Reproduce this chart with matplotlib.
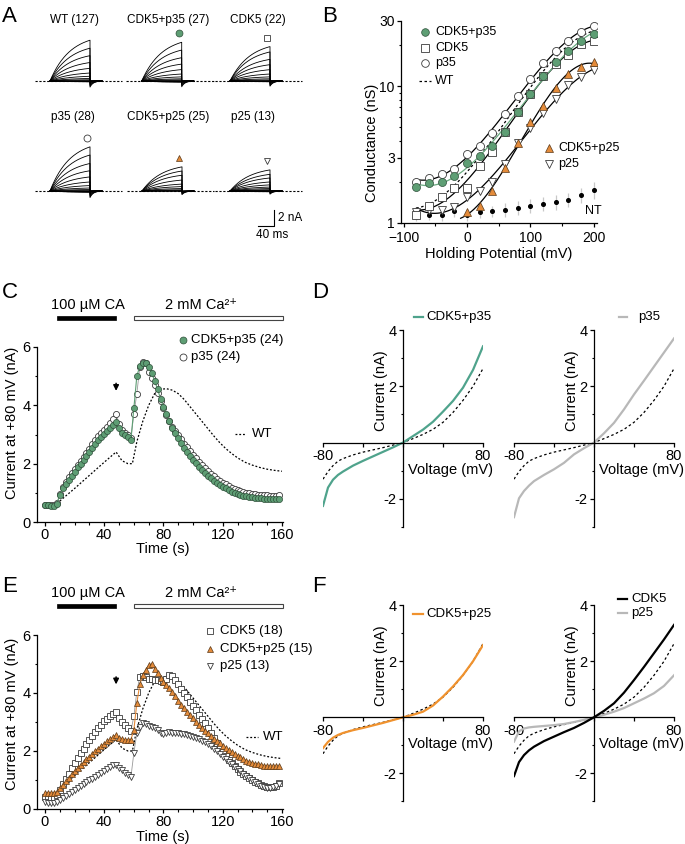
import numpy as np
import matplotlib
matplotlib.use('Agg')
import matplotlib.pyplot as plt
from matplotlib.lines import Line2D
from matplotlib.patches import Rectangle
from matplotlib.ticker import FixedLocator, NullFormatter, MultipleLocator
import matplotlib.transforms as mtrans

plt.rcParams['font.family'] = ['Liberation Sans', 'DejaVu Sans']
plt.rcParams['font.size'] = 10
plt.rcParams['axes.linewidth'] = 0.9
plt.rcParams['xtick.major.width'] = 0.9
plt.rcParams['ytick.major.width'] = 0.9
plt.rcParams['xtick.minor.width'] = 0.8
plt.rcParams['ytick.minor.width'] = 0.8
plt.rcParams['xtick.major.size'] = 3
plt.rcParams['ytick.major.size'] = 3
plt.rcParams['xtick.minor.size'] = 1.8
plt.rcParams['ytick.minor.size'] = 1.8
plt.rcParams['xtick.major.pad'] = 1.5
plt.rcParams['ytick.major.pad'] = 1.5

GREEN = '#5e9e74'
GREEN_LINE = '#4fa38c'
ORANGE = '#e48b3a'
ORANGE_LINE = '#f0922e'
GRAY_LINE = '#b8b8b8'

# ============================================================
# Data
# ============================================================
# Panel B: conductance (nS) at each holding potential (mV)
volts = np.arange(-80, 201, 20)
g_wt = [1.25, 1.40, 1.61, 1.90, 2.38, 3.06, 3.87, 5.3, 7.4, 10.0, 13.2, 16.5, 19.8, 22.8, 25.5]
g_cdk5_p35 = [1.83, 1.96, 1.99, 2.21, 2.74, 3.08, 3.63, 4.62, 6.46, 8.74, 11.9, 15.1, 18.2, 21.5, 24.2]
g_cdk5 = [1.15, 1.34, 1.54, 1.81, 1.81, 2.60, 3.30, 4.62, 6.46, 8.74, 11.8, 14.6, 16.9, 20.2, 21.5]
g_p35 = [2.01, 2.13, 2.29, 2.50, 3.19, 3.68, 4.58, 6.25, 8.49, 11.3, 14.7, 18.1, 21.5, 25.0, 27.6]
g_p25 = [1.20, 1.24, 1.25, 1.31, 1.55, 1.70, 1.98, 2.71, 3.84, 4.94, 6.38, 8.08, 10.2, 11.6, 13.2]
g_nt = [1.12, 1.14, 1.14, 1.22, 1.14, 1.20, 1.22, 1.25, 1.29, 1.34, 1.38, 1.42, 1.48, 1.61, 1.75]
g_nt_err = [0.08, 0.08, 0.10, 0.12, 0.10, 0.12, 0.12, 0.14, 0.15, 0.15, 0.16, 0.17, 0.18, 0.20, 0.25]
volts_cdk5_p25 = np.arange(0, 201, 20)
g_cdk5_p25 = [1.20, 1.34, 1.71, 2.54, 3.84, 5.52, 7.21, 9.77, 12.3, 13.9, 15.1]

# Panels C and E: current at +80 mV (nA), sampled every 2 s
time_s = np.arange(0, 160, 2)
i_cdk5_p35 = [0.58, 0.57, 0.56, 0.56, 0.62, 0.93, 1.15, 1.29, 1.45, 1.59,
              1.73, 1.87, 2.00, 2.14, 2.27, 2.41, 2.54, 2.68, 2.80, 2.91,
              3.01, 3.12, 3.22, 3.32, 3.42, 3.21, 3.06, 2.98, 2.92, 2.80,
              3.90, 5.00, 5.35, 5.44, 5.44, 5.33, 5.10, 4.85, 4.55, 4.23,
              3.95, 3.70, 3.45, 3.23, 3.04, 2.87, 2.71, 2.55, 2.40, 2.26,
              2.13, 2.01, 1.90, 1.79, 1.69, 1.59, 1.50, 1.42, 1.35, 1.28,
              1.21, 1.15, 1.09, 1.04, 1.00, 0.96, 0.93, 0.90, 0.88, 0.86,
              0.85, 0.83, 0.82, 0.81, 0.80, 0.79, 0.79, 0.78, 0.78, 0.79]
i_p35 = [0.58, 0.58, 0.57, 0.57, 0.65, 0.95, 1.20, 1.37, 1.53, 1.68,
         1.82, 1.96, 2.10, 2.24, 2.38, 2.52, 2.66, 2.81, 2.94, 3.05,
         3.15, 3.27, 3.39, 3.52, 3.72, 3.35, 3.15, 3.05, 2.97, 2.88,
         3.70, 4.40, 5.30, 5.50, 5.45, 5.15, 4.95, 4.70, 4.42, 4.15,
         3.90, 3.66, 3.45, 3.26, 3.12, 2.98, 2.83, 2.69, 2.56, 2.43,
         2.30, 2.18, 2.06, 1.95, 1.85, 1.75, 1.66, 1.57, 1.49, 1.42,
         1.35, 1.29, 1.24, 1.18, 1.14, 1.10, 1.07, 1.04, 1.01, 0.98,
         0.96, 0.95, 0.94, 0.93, 0.92, 0.91, 0.90, 0.90, 0.90, 0.91]
i_cdk5 = [0.42, 0.42, 0.42, 0.43, 0.48, 0.66, 0.85, 1.03, 1.21, 1.40,
          1.58, 1.75, 1.92, 2.08, 2.24, 2.39, 2.53, 2.66, 2.79, 2.91,
          3.02, 3.12, 3.21, 3.29, 3.36, 3.15, 3.00, 2.90, 2.78, 2.68,
          3.20, 4.05, 4.56, 4.60, 4.55, 4.50, 4.48, 4.46, 4.44, 4.41,
          4.39, 4.50, 4.62, 4.60, 4.45, 4.30, 4.15, 4.00, 3.85, 3.70,
          3.55, 3.40, 3.25, 3.10, 2.95, 2.80, 2.62, 2.45, 2.28, 2.10,
          1.95, 1.82, 1.70, 1.58, 1.47, 1.37, 1.29, 1.21, 1.14, 1.07,
          1.00, 0.94, 0.88, 0.84, 0.80, 0.77, 0.76, 0.77, 0.80, 0.88]
i_cdk5_p25 = [0.55, 0.56, 0.55, 0.56, 0.60, 0.72, 0.84, 0.95, 1.07, 1.19,
              1.30, 1.41, 1.51, 1.61, 1.71, 1.81, 1.90, 2.00, 2.08, 2.17,
              2.25, 2.33, 2.40, 2.48, 2.56, 2.44, 2.41, 2.39, 2.39, 2.39,
              2.73, 3.65, 4.30, 4.62, 4.79, 4.95, 5.00, 4.82, 4.68, 4.53,
              4.39, 4.27, 4.16, 4.02, 3.88, 3.73, 3.59, 3.47, 3.36, 3.24,
              3.13, 3.01, 2.90, 2.79, 2.70, 2.61, 2.52, 2.43, 2.35, 2.26,
              2.18, 2.11, 2.04, 1.97, 1.90, 1.83, 1.78, 1.72, 1.67, 1.62,
              1.58, 1.56, 1.54, 1.52, 1.50, 1.48, 1.47, 1.47, 1.47, 1.47]
i_p25 = [0.23, 0.22, 0.21, 0.21, 0.25, 0.32, 0.39, 0.46, 0.53, 0.60,
         0.67, 0.74, 0.81, 0.87, 0.93, 0.99, 1.04, 1.09, 1.16, 1.23,
         1.30, 1.37, 1.44, 1.51, 1.53, 1.41, 1.34, 1.24, 1.16, 1.10,
         1.93, 2.61, 2.84, 2.96, 2.92, 2.87, 2.84, 2.81, 2.72, 2.63,
         2.59, 2.61, 2.64, 2.63, 2.62, 2.61, 2.59, 2.57, 2.54, 2.51,
         2.48, 2.45, 2.41, 2.36, 2.31, 2.25, 2.17, 2.08, 1.99, 1.90,
         1.81, 1.72, 1.63, 1.54, 1.46, 1.38, 1.30, 1.22, 1.14, 1.07,
         0.99, 0.92, 0.85, 0.80, 0.76, 0.73, 0.73, 0.76, 0.80, 0.86]
# WT reference (dotted line)
wt_time = [10, 20, 30, 40, 48, 52, 56, 59, 62, 66, 70, 74, 78, 82, 86, 90, 94,
           98, 102, 106, 110, 114, 118, 122, 126, 130, 135, 140, 145, 150, 155, 160]
wt_current = [0.72, 1.15, 1.60, 2.05, 2.40, 2.10, 2.00, 2.00, 2.75, 3.45, 4.00, 4.40,
              4.55, 4.57, 4.52, 4.40, 4.20, 3.95, 3.70, 3.45, 3.20, 2.95, 2.72, 2.52,
              2.35, 2.20, 2.05, 1.95, 1.87, 1.81, 1.77, 1.74]
ca_window = (8, 48)         # 100 uM CA application (s)
calcium_window = (60, 161)  # 2 mM Ca2+ application (s)
arrow_time = 48

# Panels D and F: I-V ramps
ramp_v = [-80, -75, -70, -65, -60, -50, -40, -30, -20, -10, 0, 10, 20, 30, 40, 50, 60, 70, 80]
iv_wt = [-1.30, -1.03, -0.82, -0.66, -0.57, -0.44, -0.34, -0.26, -0.18, -0.09, 0,
         0.14, 0.29, 0.47, 0.72, 1.07, 1.50, 2.00, 2.63]
iv_cdk5_p35 = [-2.25, -1.60, -1.32, -1.15, -1.03, -0.82, -0.65, -0.49, -0.33, -0.17, 0,
               0.23, 0.46, 0.74, 1.10, 1.48, 1.95, 2.58, 3.42]
iv_p35 = [-2.65, -1.98, -1.72, -1.53, -1.37, -1.15, -0.95, -0.72, -0.42, -0.20, 0,
          0.33, 0.70, 1.18, 1.71, 2.20, 2.70, 3.20, 3.70]
iv_cdk5_p25 = [-1.10, -0.88, -0.73, -0.63, -0.56, -0.46, -0.38, -0.29, -0.20, -0.10, 0,
               0.09, 0.20, 0.42, 0.74, 1.10, 1.51, 2.00, 2.58]
iv_cdk5 = [-2.10, -1.60, -1.35, -1.18, -1.05, -0.85, -0.69, -0.53, -0.38, -0.20, 0,
           0.23, 0.50, 0.88, 1.33, 1.80, 2.29, 2.78, 3.30]
iv_p25 = [-0.87, -0.50, -0.40, -0.36, -0.34, -0.31, -0.28, -0.24, -0.17, -0.09, 0,
          0.09, 0.20, 0.33, 0.50, 0.67, 0.86, 1.12, 1.50]

# ============================================================
# Figure helpers (pixel layout of a 685x844 canvas)
# ============================================================
W, H = 685, 844
fig = plt.figure(figsize=(W / 100, H / 100), dpi=100)


def box(l, t, r, b):
    return [l / W, 1 - b / H, (r - l) / W, (b - t) / H]


def put_text(px, py, s, **kw):
    kw.setdefault('va', 'center')
    fig.text(px / W, 1 - py / H, s, **kw)


def put_marker(px, py, **style):
    fig.add_artist(Line2D([px / W], [1 - py / H], transform=fig.transFigure,
                          linestyle='none', **style))


def put_segment(x0, x1, py, **style):
    fig.add_artist(Line2D([x0 / W, x1 / W], [1 - py / H] * 2,
                          transform=fig.transFigure, **style))


sty_cdk5_p35 = dict(marker='o', mfc=GREEN, mec='#2f4f3a', mew=0.5)
sty_p35 = dict(marker='o', mfc='white', mec='#3a3a3a', mew=0.6)
sty_cdk5 = dict(marker='s', mfc='white', mec='#3a3a3a', mew=0.6)
sty_cdk5_p25 = dict(marker='^', mfc=ORANGE, mec='#5a3a1a', mew=0.5)
sty_p25 = dict(marker='v', mfc='white', mec='#3a3a3a', mew=0.6)

# panel letters
for letter, px, py in [('A', 2, 17), ('B', 322, 17), ('C', 2, 293),
                       ('D', 312, 293), ('E', 2, 587), ('F', 312, 587)]:
    put_text(px, py, letter, fontsize=16, ha='left')

# ============================================================
# A: current traces (steps -80..+200 mV, amplitude = G * V)
# ============================================================
PX_PER_MS, PX_PER_NA = 0.4, 8.0
TAU_ACT, STEP_MS, TAU_TAIL, TAIL_FRAC = 50.0, 100.0, 8.0, 0.15
t_on = np.linspace(0, STEP_MS, 200)
t_off = np.linspace(STEP_MS, 130, 80)

trace_panels = [
    ('WT (127)', volts, g_wt, 50, 81, 74, 20, None),
    ('CDK5+p35 (27)', volts, g_cdk5_p35, 141.7, 81, 168, 20, sty_cdk5_p35),
    ('CDK5 (22)', volts, g_cdk5, 230, 81, 258, 20, sty_cdk5),
    ('p35 (28)', volts, g_p35, 50, 191, 73, 117, sty_p35),
    ('CDK5+p25 (25)', volts_cdk5_p25, g_cdk5_p25, 142, 191, 168, 117, sty_cdk5_p25),
    ('p25 (13)', volts, g_p25, 230, 191, 253, 117, sty_p25),
]
for title, vs, gs, x0, base, tx, ty, sty in trace_panels:
    ax = fig.add_axes(box(x0 - 40 * PX_PER_MS, base - 9 * PX_PER_NA,
                          x0 + 190 * PX_PER_MS, base + 1.5 * PX_PER_NA))
    ax.set_xlim(-40, 190)
    ax.set_ylim(-1.5, 9)
    ax.axis('off')
    ax.plot([-38, 180], [0, 0], color='black', lw=0.8, ls=(0, (2, 1.5)))
    amps = np.asarray(gs) * np.asarray(vs) / 1000.0
    for a in amps:
        on = a * (1 - np.exp(-t_on / TAU_ACT)) / (1 - np.exp(-STEP_MS / TAU_ACT))
        off = -TAIL_FRAC * max(a, 0) * np.exp(-(t_off - STEP_MS) / TAU_TAIL)
        ax.plot(np.r_[t_on, t_off], np.r_[on, off], color='black', lw=0.6)
    put_text(tx, ty, title, fontsize=8.5, ha='center')
    if sty is not None:
        top = amps.max() * PX_PER_NA
        put_marker(x0 + 37, base - top - 9, ms=5, **sty)
    if title.startswith('p25'):
        ax.plot([70, 110, 110], [-4.4, -4.4, -2.4], color='black', lw=0.8, clip_on=False)
        ax.text(120, -3.4, '2 nA', fontsize=8.5, va='center', ha='left')
        ax.text(105, -5.5, '40 ms', fontsize=8.5, va='center', ha='center')

# ============================================================
# B: conductance vs holding potential
# ============================================================
axB = fig.add_axes(box(401, 21, 597, 223))
axB.set_yscale('log')
axB.set_xlim(-104, 205)
axB.set_ylim(1, 30)
for s in ['top', 'right']:
    axB.spines[s].set_visible(False)
fine_v = np.linspace(-80, 200, 200)
fits = [(volts, g_p35, 'black', '-'), (volts, g_cdk5, 'black', '-'),
        (volts, g_p25, 'black', '-'), (volts, g_wt, 'black', (0, (2, 2))),
        (volts, g_cdk5_p35, '#6aaa80', '-')]
for vs, gs, col, ls in fits:
    coef = np.polyfit(vs, np.log10(gs), 3)
    axB.plot(fine_v, 10 ** np.polyval(coef, fine_v), color=col, lw=0.9, ls=ls)
fine_v25 = np.linspace(-10, 200, 200)
coef = np.polyfit(volts_cdk5_p25, np.log10(g_cdk5_p25), 3)
axB.plot(fine_v25, 10 ** np.polyval(coef, fine_v25), color='black', lw=0.9)

axB.errorbar(volts, g_nt, yerr=g_nt_err, fmt='o', ms=2.6, color='black',
             ecolor='#c8c8c8', elinewidth=0.9, capsize=0, zorder=3)
axB.plot(volts, g_p25, ls='none', ms=5.5, zorder=4, **sty_p25)
axB.plot(volts, g_cdk5, ls='none', ms=5.2, zorder=4, **sty_cdk5)
axB.plot(volts, g_p35, ls='none', ms=5.8, zorder=4, **sty_p35)
axB.plot(volts, g_cdk5_p35, ls='none', ms=5.8, zorder=5, **sty_cdk5_p35)
axB.plot(volts_cdk5_p25, g_cdk5_p25, ls='none', ms=5.5, zorder=5, **sty_cdk5_p25)

axB.yaxis.set_major_locator(FixedLocator([1, 3, 10, 30]))
axB.yaxis.set_major_formatter(matplotlib.ticker.FixedFormatter(['1', '3', '10', '30']))
axB.yaxis.set_minor_locator(FixedLocator([2, 4, 5, 6, 7, 8, 9, 20]))
axB.yaxis.set_minor_formatter(NullFormatter())
axB.set_xticks([-100, 0, 100, 200])
axB.xaxis.set_minor_locator(MultipleLocator(50))
axB.tick_params(labelsize=10)
axB.tick_params(axis='x', pad=2.5)
put_text(372, 143, 'Conductance (nS)', rotation=90, ha='center', fontsize=10.5)
put_text(499, 254, 'Holding Potential (mV)', ha='center', fontsize=10.5)

for py, lab, sty in [(31.7, 'CDK5+p35', sty_cdk5_p35), (47.7, 'CDK5', sty_cdk5),
                     (63.3, 'p35', sty_p35)]:
    put_marker(425, py, ms=5.5, **sty)
    put_text(435, py, lab, fontsize=9, ha='left')
put_segment(419, 431, 81, color='black', lw=0.9, ls=(0, (2, 2)))
put_text(435, 81, 'WT', fontsize=9, ha='left')
put_marker(549, 147.7, ms=5.5, **sty_cdk5_p25)
put_text(558, 147.7, 'CDK5+p25', fontsize=9, ha='left')
put_marker(549, 164.3, ms=5.5, **sty_p25)
put_text(558, 164.3, 'p25', fontsize=9, ha='left')
put_text(585, 210.7, 'NT', fontsize=9, ha='left')


# ============================================================
# C and E: time courses
# ============================================================
def time_axes(top, bottom):
    ax = fig.add_axes(box(37, top, 283, bottom))
    ax.set_xlim(-5.4, 160.7)
    ax.set_ylim(0, 6)
    for s in ['top', 'right']:
        ax.spines[s].set_visible(False)
    ax.set_xticks([0, 40, 80, 120, 160])
    ax.set_yticks([0, 2, 4, 6])
    ax.xaxis.set_minor_locator(MultipleLocator(10))
    ax.yaxis.set_minor_locator(MultipleLocator(1))
    ax.tick_params(labelsize=10.5)
    tr = mtrans.blended_transform_factory(ax.transData, ax.transAxes)
    h = 3.2 / (bottom - top)
    yb = 1 + 29 / (bottom - top)
    ax.add_patch(Rectangle((ca_window[0], yb - h / 2), ca_window[1] - ca_window[0], h,
                           transform=tr, facecolor='black', edgecolor='black', lw=0.5,
                           clip_on=False))
    ax.add_patch(Rectangle((calcium_window[0], yb - h / 2), calcium_window[1] - calcium_window[0], h,
                           transform=tr, facecolor='white', edgecolor='#444444', lw=0.8,
                           clip_on=False))
    yt = 1 + 42 / (bottom - top)
    ax.text(np.mean(ca_window) + 1, yt, '100 µM CA', transform=tr, ha='center',
            va='center', fontsize=10.5)
    ax.text(105, yt, '2 mM Ca²⁺', transform=tr, ha='center', va='center', fontsize=10.5)
    return ax


axC = time_axes(347, 522)
axC.plot(wt_time, wt_current, color='black', lw=0.9, ls=(0, (1.5, 1.5)))
axC.plot(time_s, i_p35, color='#999999', lw=0.6, ms=4.4, **sty_p35)
axC.plot(time_s, i_cdk5_p35, color=GREEN, lw=0.8, ms=4.4, **sty_cdk5_p35)
axC.annotate('', xy=(arrow_time, 4.4), xytext=(arrow_time, 4.85),
             arrowprops=dict(arrowstyle='-|>', lw=1.1, color='black', mutation_scale=8))
axC.plot([128, 136], [3.03, 3.03], color='black', lw=0.9, ls=(0, (1.5, 1.5)))
axC.text(140, 3.03, 'WT', fontsize=9.5, va='center')
put_text(12, 423, 'Current at +80 mV (nA)', rotation=90, ha='center', fontsize=10.5)
put_text(163, 549, 'Time (s)', ha='center', fontsize=10.5)
put_marker(183, 340, ms=5, **sty_cdk5_p35)
put_text(191, 340, 'CDK5+p35 (24)', fontsize=9.5, ha='left')
put_marker(183, 356.7, ms=5, **sty_p35)
put_text(191, 356.7, 'p35 (24)', fontsize=9.5, ha='left')

axE = time_axes(635, 809)
axE.plot(wt_time, wt_current, color='black', lw=0.9, ls=(0, (1.5, 1.5)))
axE.plot(time_s, i_cdk5, color='#999999', lw=0.6, ms=4.2, **sty_cdk5)
axE.plot(time_s, i_p25, color='#999999', lw=0.6, ms=4.6, **sty_p25)
axE.plot(time_s, i_cdk5_p25, color=ORANGE, lw=0.8, ms=4.8, **sty_cdk5_p25)
axE.annotate('', xy=(arrow_time, 4.2), xytext=(arrow_time, 4.65),
             arrowprops=dict(arrowstyle='-|>', lw=1.1, color='black', mutation_scale=8))
axE.plot([136, 144], [2.5, 2.5], color='black', lw=0.9, ls=(0, (1.5, 1.5)))
axE.text(147, 2.5, 'WT', fontsize=9.5, va='center')
put_text(12, 714, 'Current at +80 mV (nA)', rotation=90, ha='center', fontsize=10.5)
put_text(163, 837, 'Time (s)', ha='center', fontsize=10.5)
for py, lab, sty in [(631, 'CDK5 (18)', sty_cdk5), (649.3, 'CDK5+p25 (15)', sty_cdk5_p25),
                     (666, 'p25 (13)', sty_p25)]:
    put_marker(210, py, ms=5, **sty)
    put_text(220, py, lab, fontsize=9.5, ha='left')


# ============================================================
# D and F: I-V relations
# ============================================================
def iv_axes(left, top, zero_y):
    bottom = zero_y + 3 * 28
    ax = fig.add_axes(box(left, top, left + 160, bottom))
    ax.set_xlim(-80, 80)
    ax.set_ylim(-3, 4)
    for s in ['top', 'right']:
        ax.spines[s].set_visible(False)
    ax.spines['left'].set_position(('data', 0))
    ax.spines['bottom'].set_position(('data', 0))
    ax.set_xticks([-80, -40, 0, 40, 80], labels=['-80', '', '', '', '80'])
    ax.set_yticks([-2, 2, 4], labels=['-2', '2', '4'])
    ax.yaxis.set_minor_locator(FixedLocator([-3, -1, 1, 3]))
    ax.tick_params(labelsize=10.5)
    ax.plot(ramp_v, iv_wt, color='black', lw=0.9, ls=(0, (2, 2)))
    ax.text(-22, 1.85, 'Current (nA)', rotation=90, ha='center', va='center', fontsize=10.5)
    ax.text(47.5, -0.96, 'Voltage (mV)', ha='center', va='center', fontsize=10.5)
    return ax


axD1 = iv_axes(323, 330, 443)
axD1.plot(ramp_v, iv_cdk5_p35, color=GREEN_LINE, lw=1.6)
put_segment(414, 423, 317, color=GREEN_LINE, lw=1.6)
put_text(426, 317, 'CDK5+p35', fontsize=9.5, ha='left')

axD2 = iv_axes(514, 330, 443)
axD2.plot(ramp_v, iv_p35, color=GRAY_LINE, lw=1.6)
put_segment(619, 627, 317, color=GRAY_LINE, lw=1.6)
put_text(638, 317, 'p35', fontsize=9.5, ha='left')

axF1 = iv_axes(323, 605.3, 717.3)
axF1.plot(ramp_v, iv_cdk5_p25, color=ORANGE_LINE, lw=1.6)
put_segment(413, 423, 614, color=ORANGE_LINE, lw=1.6)
put_text(426, 614, 'CDK5+p25', fontsize=9.5, ha='left')

axF2 = iv_axes(514, 605.3, 717.3)
axF2.plot(ramp_v, iv_p25, color=GRAY_LINE, lw=1.6)
axF2.plot(ramp_v, iv_cdk5, color='black', lw=1.6)
put_segment(618, 627, 599, color='black', lw=1.6)
put_text(631, 599, 'CDK5', fontsize=9.5, ha='left')
put_segment(618, 627, 613, color=GRAY_LINE, lw=1.6)
put_text(631, 613, 'p25', fontsize=9.5, ha='left')

fig.savefig('out.png', dpi=100)
print('saved out.png')
